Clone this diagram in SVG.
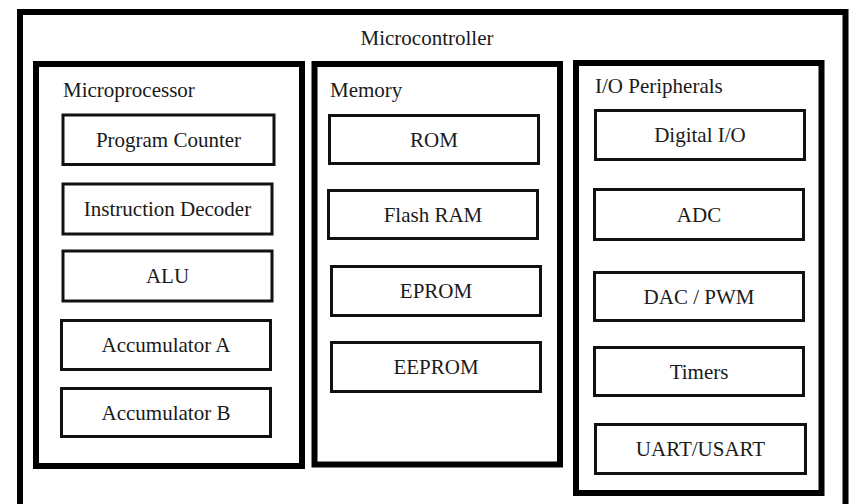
<svg xmlns="http://www.w3.org/2000/svg" width="852" height="504" viewBox="0 0 852 504" font-family="'Liberation Serif', 'Times New Roman', 'DejaVu Serif', serif">
<style>
.big{fill:none;stroke:#000;stroke-width:6}
.box{fill:#fff;stroke:#111;stroke-width:3}
text{font-family:'Liberation Serif', 'Times New Roman', 'DejaVu Serif', serif;font-size:21px;fill:#1a1a1a}
.c{text-anchor:middle}
</style>
<rect width="852" height="504" fill="#fff"/>
<g id="microcontroller">
<rect class="big" x="20" y="12" width="825.5" height="600"/>
<text class="c" x="427" y="45">Microcontroller</text>
</g>
<g id="microprocessor">
<rect class="big" x="36" y="64" width="266" height="402"/>
<text x="63" y="97">Microprocessor</text>
</g>
<g id="memory">
<rect class="big" x="314.5" y="64" width="245.5" height="400.5"/>
<text x="330" y="97">Memory</text>
</g>
<g id="io">
<rect class="big" x="576" y="63" width="245.5" height="430"/>
<text x="595" y="93">I/O Peripherals</text>
</g>
<g id="pc"><rect class="box" x="63" y="115" width="211" height="49.5"/><text class="c" x="168.5" y="147">Program Counter</text></g>
<g id="id"><rect class="box" x="63" y="184" width="209" height="50"/><text class="c" x="167.5" y="216">Instruction Decoder</text></g>
<g id="alu"><rect class="box" x="63" y="251" width="209" height="50"/><text class="c" x="167.5" y="283">ALU</text></g>
<g id="acca"><rect class="box" x="61.5" y="320.5" width="209" height="49"/><text class="c" x="166" y="352">Accumulator A</text></g>
<g id="accb"><rect class="box" x="61.5" y="388.5" width="209" height="48"/><text class="c" x="166" y="420">Accumulator B</text></g>
<g id="rom"><rect class="box" x="329.5" y="115.5" width="209" height="48"/><text class="c" x="434" y="147">ROM</text></g>
<g id="flash"><rect class="box" x="328.5" y="190.5" width="209" height="48"/><text class="c" x="433" y="222">Flash RAM</text></g>
<g id="eprom"><rect class="box" x="331.5" y="266.5" width="209" height="49"/><text class="c" x="436" y="298">EPROM</text></g>
<g id="eeprom"><rect class="box" x="331.5" y="342.5" width="209" height="49"/><text class="c" x="436" y="374">EEPROM</text></g>
<g id="dio"><rect class="box" x="595.5" y="110.5" width="209" height="49"/><text class="c" x="700" y="142">Digital I/O</text></g>
<g id="adc"><rect class="box" x="594.5" y="189.5" width="209" height="50"/><text class="c" x="699" y="222">ADC</text></g>
<g id="dac"><rect class="box" x="594.5" y="272.5" width="209" height="48"/><text class="c" x="699" y="304">DAC / PWM</text></g>
<g id="timers"><rect class="box" x="594.5" y="347.5" width="209" height="48"/><text class="c" x="699" y="379">Timers</text></g>
<g id="uart"><rect class="box" x="595.5" y="424.5" width="210" height="49"/><text class="c" x="700.5" y="456">UART/USART</text></g>
<g id="connectors"/>
</svg>
